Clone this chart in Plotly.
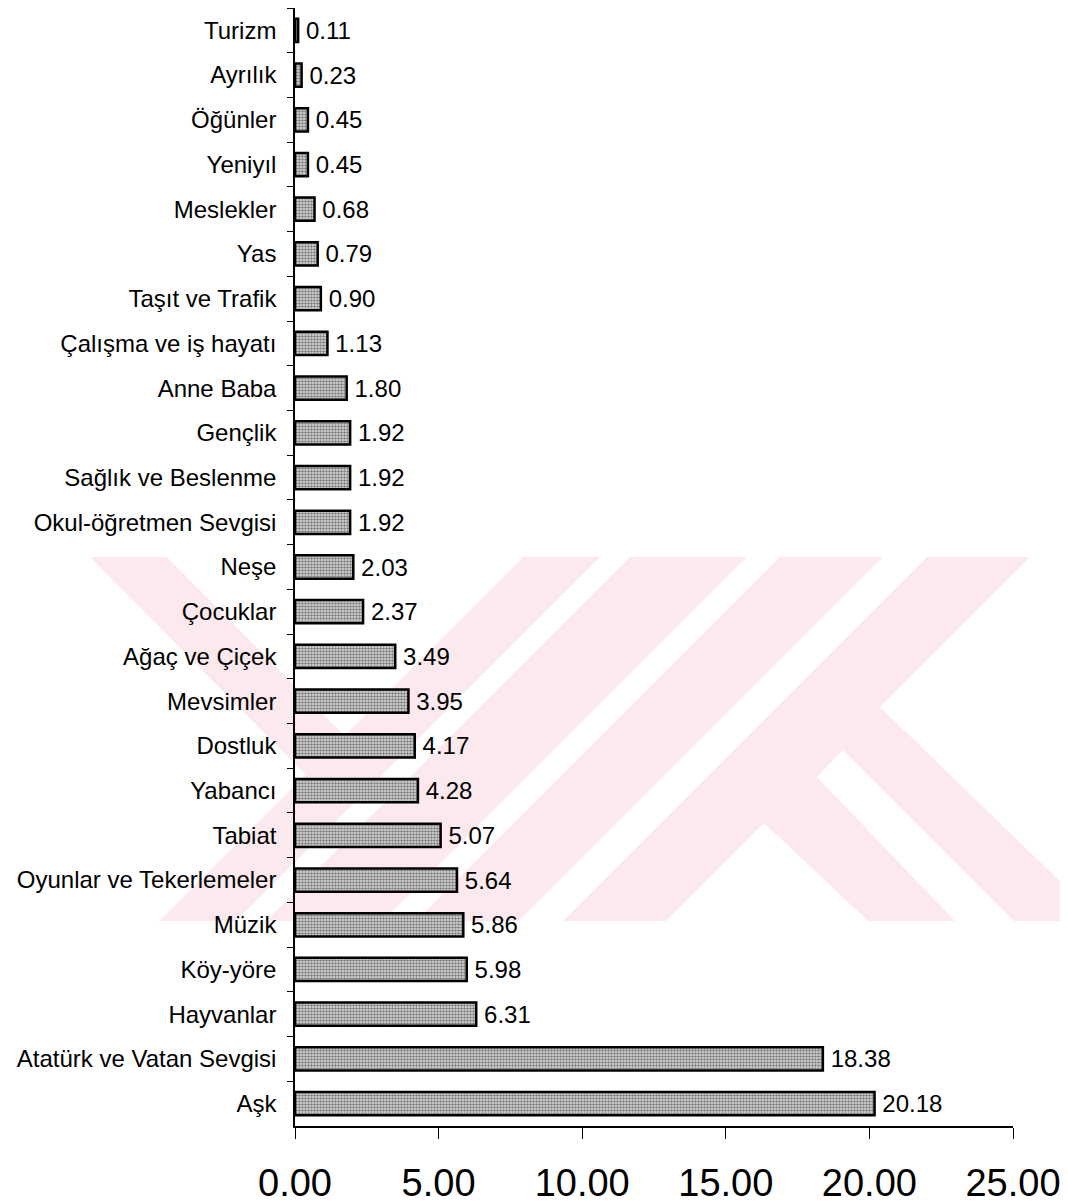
import plotly.graph_objects as go

# kategori dan nilai (urutan dari atas ke bawah)
kategori = ["Turizm", "Ayrılık", "Öğünler", "Yeniyıl", "Meslekler", "Yas",
            "Taşıt ve Trafik", "Çalışma ve iş hayatı", "Anne Baba", "Gençlik",
            "Sağlık ve Beslenme", "Okul-öğretmen Sevgisi", "Neşe", "Çocuklar",
            "Ağaç ve Çiçek", "Mevsimler", "Dostluk", "Yabancı", "Tabiat",
            "Oyunlar ve Tekerlemeler", "Müzik", "Köy-yöre", "Hayvanlar",
            "Atatürk ve Vatan Sevgisi", "Aşk"]
nilai = [0.11, 0.23, 0.45, 0.45, 0.68, 0.79, 0.90, 1.13, 1.80, 1.92, 1.92, 1.92,
         2.03, 2.37, 3.49, 3.95, 4.17, 4.28, 5.07, 5.64, 5.86, 5.98, 6.31,
         18.38, 20.18]
x_ticks = [0, 5, 10, 15, 20, 25]
x_ticklabels = ["0.00", "5.00", "10.00", "15.00", "20.00", "25.00"]

# halaman punya margin body 8px
OFF = 8
W, H = 1060, 1196
L, R, T, B = 287, 55, 0, 78
pw, ph = W - L - R, H - T - B

def px2paper(pts):
    # piksel layar -> koordinat paper, untuk watermark
    return [((x - OFF - L) / pw, (H - B - (y - OFF)) / ph) for x, y in pts]

def path(pts):
    p = px2paper(pts)
    return "M " + " L ".join(f"{a:.4f},{b:.4f}" for a, b in p) + " Z"

# watermark pink (bentuk kasar)
wm_color = "#fce9ed"
wm_polys = [
    [(90, 557), (167, 557), (345, 736), (306, 775)],
    [(523, 557), (600, 557), (236, 921), (159, 921)],
    [(630, 557), (747, 557), (383, 921), (266, 921)],
    [(780, 557), (883, 557), (519, 921), (416, 921)],
    [(927, 557), (1030, 557), (666, 921), (563, 921)],
    [(880, 707), (1101, 921), (1014, 921), (843, 750), (817, 777),
     (955, 921), (868, 921), (764, 823)],
]

font = "Liberation Sans, Arial"

fig = go.Figure()

fig.add_trace(go.Bar(
    x=nilai, y=kategori, orientation="h",
    marker=dict(color="#a8a8a8",
                line=dict(color="black", width=2.5),
                pattern=dict(shape=".", size=3, solidity=0.6,
                             fgcolor="#1a1a1a", bgcolor="#e4e4e4")),
    texttemplate="\u2009%{x:.2f}", textposition="outside", cliponaxis=False,
    constraintext="none",
    textfont=dict(size=24, color="black", family=font),
    showlegend=False,
))

for poly in wm_polys:
    fig.add_shape(type="path", path=path(poly), xref="paper", yref="paper",
                  fillcolor=wm_color, line_width=0, layer="below")

fig.update_xaxes(range=[0, 25], tickmode="array", tickvals=x_ticks, ticktext=x_ticklabels,
                 showline=True, linecolor="black", linewidth=1.5, showgrid=False, zeroline=False,
                 ticks="outside", ticklen=11, tickwidth=1.3, tickcolor="black",
                 ticklabelstandoff=12,
                 tickfont=dict(size=38, color="black", family=font))
fig.update_yaxes(autorange="reversed", showline=True, linecolor="black", linewidth=1.5,
                 showgrid=False, ticks="outside", tickson="boundaries", ticklen=6,
                 tickwidth=1.3, tickcolor="black", ticklabelstandoff=12,
                 tickfont=dict(size=24, color="black", family=font))

fig.update_layout(width=W, height=H, margin=dict(l=L, r=R, t=T, b=B, autoexpand=False),
                  plot_bgcolor="white", paper_bgcolor="white", bargap=0.48)

fig.write_html("out.html")
